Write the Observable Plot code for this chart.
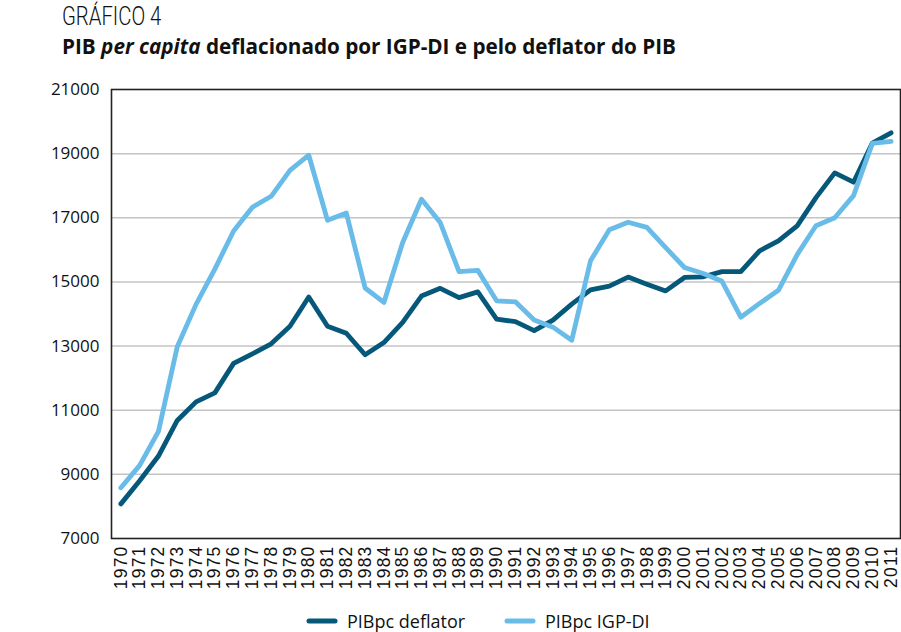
<!DOCTYPE html>
<html><head><meta charset="utf-8">
<script src="https://cdn.jsdelivr.net/npm/d3@7"></script>
<script src="https://cdn.jsdelivr.net/npm/@observablehq/plot@0.6"></script>
<style>
body{margin:0;background:#fff;font-family:"Open Sans","Noto Sans",sans-serif;color:#111;}
#wrap{position:relative;width:901px;height:632px;overflow:hidden;}
#t1{position:absolute;left:62px;top:2px;font-family:Roboto,"Open Sans",sans-serif;font-size:26px;font-weight:300;line-height:28px;height:28px;transform:scaleX(0.78);transform-origin:left top;white-space:nowrap;}
#t2{position:absolute;left:62px;top:33px;font-size:21px;font-weight:700;line-height:26px;height:26px;transform:scaleX(0.985);transform-origin:left top;white-space:nowrap;}
#ylab{position:absolute;left:16px;top:304px;transform:translate(-50%,-50%) rotate(-90deg);font-size:16.5px;white-space:nowrap;}
#chart{position:absolute;left:0;top:70px;}
#legend{position:absolute;left:0;top:609px;width:901px;height:23px;font-size:18px;}
.item{position:absolute;top:0;display:flex;align-items:center;height:23px;line-height:22px;white-space:nowrap;}
.item svg{margin-right:9px;}
</style></head><body>
<div id="wrap">
<div id="t1">GRÁFICO 4</div>
<div id="t2">PIB <i>per capita</i> deflacionado por IGP-DI e pelo deflator do PIB</div>
<div id="ylab">PIB <i>per capita</i></div>
<div id="chart"></div>
<div id="legend"></div>
</div>
<script>
const years = ["1970","1971","1972","1973","1974","1975","1976","1977","1978","1979","1980","1981","1982","1983","1984","1985","1986","1987","1988","1989","1990","1991","1992","1993","1994","1995","1996","1997","1998","1999","2000","2001","2002","2003","2004","2005","2006","2007","2008","2009","2010","2011"];
const seriesNames = ["PIBpc deflator", "PIBpc IGP-DI"];
const deflator = [8080,8800,9570,10680,11260,11540,12460,12760,13070,13620,14530,13620,13400,12730,13110,13740,14560,14800,14510,14690,13840,13760,13480,13810,14310,14750,14870,15150,14930,14720,15140,15160,15320,15320,15970,16280,16750,17630,18400,18110,19330,19650];
const igpdi = [8580,9280,10340,12980,14300,15400,16590,17330,17670,18480,18950,16920,17150,14810,14360,16230,17580,16850,15320,15360,14410,14380,13810,13590,13180,15660,16630,16860,16700,16070,15450,15260,15020,13900,14330,14740,15850,16750,17000,17690,19320,19380];
const yTicks = [7000,9000,11000,13000,15000,17000,19000,21000];
const colors = ["#06587a", "#69bbe8"];

const data = [
  ...years.map((y,i)=>({year:y, value:deflator[i], series:seriesNames[0]})),
  ...years.map((y,i)=>({year:y, value:igpdi[i], series:seriesNames[1]}))
];

const chart = Plot.plot({
  width: 901,
  height: 524,
  marginLeft: 111,
  marginRight: 1,
  marginTop: 19,
  marginBottom: 56,
  style: {fontFamily: '"Open Sans","Noto Sans",sans-serif', background: "#fff", color: "#111"},
  x: {type: "point", domain: years, padding: 0.5, label: null},
  y: {domain: [7000, 21000], label: null},
  color: {domain: seriesNames, range: colors},
  marks: [
    Plot.gridY(yTicks.slice(1, -1), {stroke: "#c4c4c4", strokeOpacity: 1, strokeWidth: 1.5}),
    Plot.axisY(yTicks, {tickSize: 0, tickPadding: 12, tickFormat: d => String(d), fontSize: 17, label: null}),
    Plot.axisX(years, {tickSize: 0, tickPadding: 7, tickRotate: -90, fontSize: 17.5, fontFamily: '"Liberation Sans",Arial,sans-serif', label: null}),
    Plot.lineY(data, {x: "year", y: "value", stroke: "series", z: "series", strokeWidth: 4.8, strokeLinejoin: "round", strokeLinecap: "round"}),
    Plot.frame({stroke: "#222", strokeWidth: 1.6})
  ]
});
document.getElementById("chart").appendChild(chart);
d3.select(chart).selectAll('g[aria-label="x-axis tick label"] text').attr("letter-spacing", "1.2px");

// legend
const legend = d3.select("#legend");
const lx = [306, 504];
seriesNames.forEach((name, i) => {
  const it = legend.append("div").attr("class", "item").style("left", lx[i] + "px");
  const s = it.append("svg").attr("width", 32).attr("height", 10);
  s.append("line").attr("x1", 3).attr("x2", 29).attr("y1", 5).attr("y2", 5)
    .attr("stroke", colors[i]).attr("stroke-width", 5).attr("stroke-linecap", "round");
  it.append("span").text(name);
});
</script>
</body></html>
